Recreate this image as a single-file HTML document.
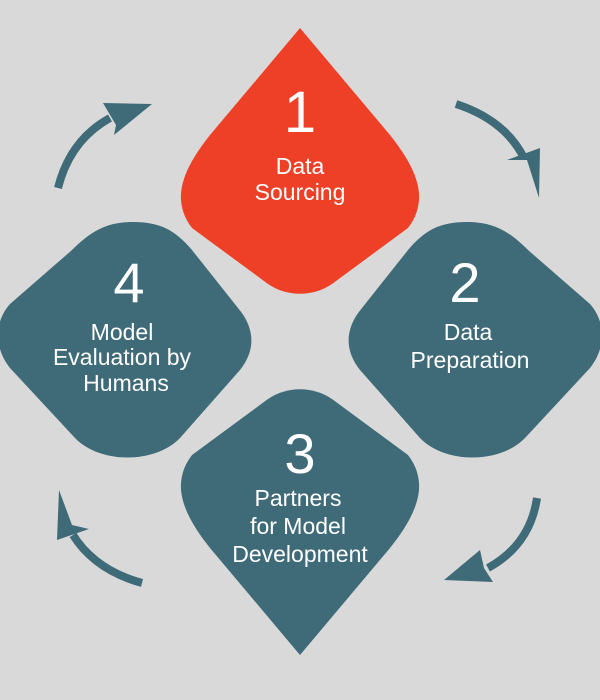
<!DOCTYPE html>
<html><head><meta charset="utf-8"><style>
html,body{margin:0;padding:0;background:#d9d9d9;}
svg{display:block}
text{font-family:"Liberation Sans",sans-serif;fill:#fff;text-anchor:middle}
</style></head><body>
<svg width="600" height="700" viewBox="0 0 600 700" xmlns="http://www.w3.org/2000/svg">
<rect width="600" height="700" fill="#d9d9d9"/>
<defs>
<path id="s1" d="M300,28 L390,135 C414,165 420,185 419,200 C418,212 414,220 408,228 L332,284 C313,297 287,297 268,284 L192,228 C186,220 182,212 181,200 C180,185 186,165 210,135 Z"/>
<path id="s2" d="M467,222 C440,222 425,230 408,250 L362,308 C345,328 344,350 360,370 L420,438 C445,464 500,464 525,438 L590,368 C606,348 606,322 590,304 L528,250 C508,230 492,222 467,222 Z"/>
</defs>
<use href="#s1" fill="#ee4027"/>
<use href="#s2" fill="#3f6a78"/>
<use href="#s2" fill="#3f6a78" transform="translate(600,0) scale(-1,1)"/>
<use href="#s1" fill="#3f6a78" transform="translate(0,683) scale(1,-1)"/>

<g fill="none" stroke="#3f6a78" stroke-width="8">
<path d="M58,188 Q70,140 110,118"/>
<path d="M456,104 Q505,120 524,158"/>
<path d="M537,498 Q530,545 488,568"/>
<path d="M142,583 Q95,570 73,535"/>
</g>
<g fill="#3f6a78">
<polygon points="103,103 152,104 114,135 116,125"/>
<polygon points="507,160 540,148 539,198 527,160"/>
<polygon points="480,550 444,580 493,582 484,568"/>
<polygon points="59,490 57,540 89,529 72,525"/>
</g>

<text x="300" y="132" font-size="58">1</text>
<text x="300" y="174" font-size="23">Data</text>
<text x="300" y="200" font-size="23">Sourcing</text>

<text x="465" y="302" font-size="56">2</text>
<text x="468" y="340" font-size="23">Data</text>
<text x="470" y="368" font-size="23">Preparation</text>

<text x="129" y="302" font-size="56">4</text>
<text x="122" y="340" font-size="23">Model</text>
<text x="122" y="365" font-size="23">Evaluation by</text>
<text x="126" y="391" font-size="23">Humans</text>

<text x="300" y="473" font-size="56">3</text>
<text x="298" y="506" font-size="23">Partners</text>
<text x="298" y="534" font-size="23">for Model</text>
<text x="300" y="562" font-size="23">Development</text>
</svg>
</body></html>
